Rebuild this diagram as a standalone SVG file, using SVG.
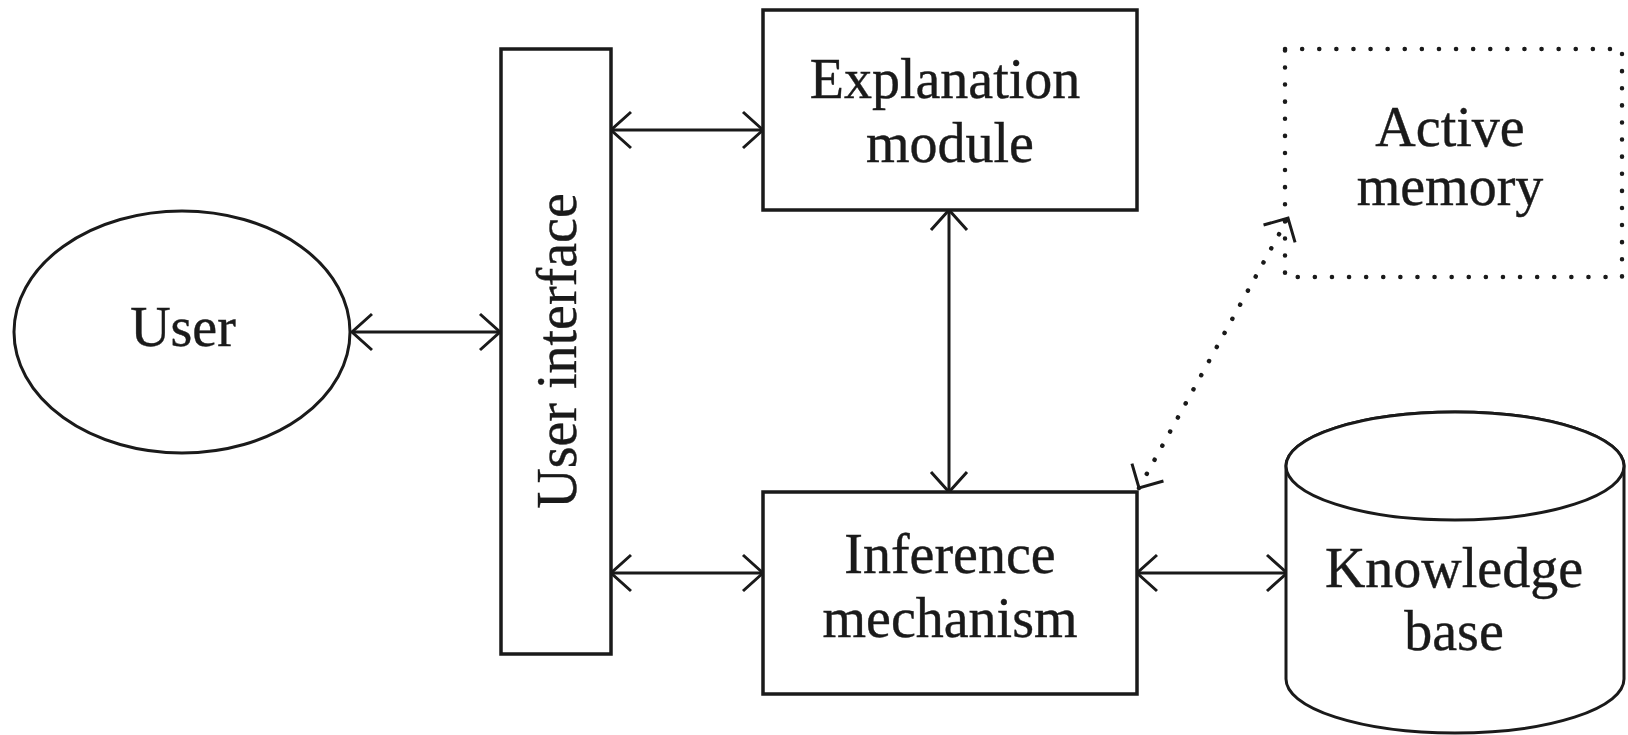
<svg xmlns="http://www.w3.org/2000/svg" width="1628" height="735" viewBox="0 0 1628 735">
  <style>
    .shape { fill: #ffffff; stroke: #1a1a1a; stroke-width: 3.5; }
    .dotted { fill: none; stroke: #1a1a1a; stroke-width: 4.5; stroke-linecap: round; stroke-dasharray: 0.1 17; }
    .link { fill: none; stroke: #1a1a1a; stroke-width: 3; }
    .label { font-family: "Liberation Serif", "Times New Roman", serif; font-size: 56px; fill: #1a1a1a; text-anchor: middle; stroke: #1a1a1a; stroke-width: 0.4; }
  </style>
  <defs>
    <marker id="arrow" markerUnits="userSpaceOnUse" markerWidth="44" markerHeight="44" viewBox="-24 -22 28 44" refX="0" refY="0" orient="auto-start-reverse">
      <path d="M -20 -18 L 0 0 L -20 18" fill="none" stroke="#1a1a1a" stroke-width="3"/>
    </marker>
    <marker id="arrow-small" markerUnits="userSpaceOnUse" markerWidth="44" markerHeight="44" viewBox="-24 -22 28 44" refX="0" refY="0" orient="auto-start-reverse">
      <path d="M -18 -18 L 0 0 L -18 18" fill="none" stroke="#1a1a1a" stroke-width="3"/>
    </marker>
  </defs>

  <rect width="1628" height="735" fill="#ffffff"/>

  <!-- connectors -->
  <g id="connectors">
    <line class="link" x1="352" y1="332" x2="500" y2="332" marker-start="url(#arrow)" marker-end="url(#arrow)"/>
    <line class="link" x1="611" y1="130" x2="763" y2="130" marker-start="url(#arrow)" marker-end="url(#arrow)"/>
    <line class="link" x1="611" y1="573" x2="763" y2="573" marker-start="url(#arrow)" marker-end="url(#arrow)"/>
    <line class="link" x1="1137" y1="573" x2="1287" y2="573" marker-start="url(#arrow)" marker-end="url(#arrow)"/>
    <line class="link" x1="949" y1="210" x2="949" y2="492" marker-start="url(#arrow)" marker-end="url(#arrow)"/>
    <line class="link" x1="1139" y1="488" x2="1288" y2="218" style="stroke-width:4.5;stroke-linecap:round;stroke-dasharray:0.1 16" marker-start="url(#arrow-small)" marker-end="url(#arrow-small)"/>
  </g>

  <!-- user -->
  <g id="user">
    <ellipse class="shape" cx="182" cy="332" rx="168" ry="121" style="stroke-width:3"/>
    <text class="label" x="183" y="346">User</text>
  </g>

  <!-- user interface -->
  <g id="user-interface">
    <rect class="shape" x="501" y="49" width="110" height="605"/>
    <text class="label" transform="translate(576 351) rotate(-90)">User interface</text>
  </g>

  <!-- explanation module -->
  <g id="explanation-module">
    <rect class="shape" x="763" y="10" width="374" height="200"/>
    <text class="label" x="945" y="98">Explanation</text>
    <text class="label" x="950" y="162">module</text>
  </g>

  <!-- inference mechanism -->
  <g id="inference-mechanism">
    <rect class="shape" x="763" y="492" width="374" height="202"/>
    <text class="label" x="950" y="573">Inference</text>
    <text class="label" x="950" y="637">mechanism</text>
  </g>

  <!-- active memory -->
  <g id="active-memory">
    <rect class="dotted" x="1285" y="49" width="337" height="228"/>
    <text class="label" x="1450" y="146">Active</text>
    <text class="label" x="1450" y="205">memory</text>
  </g>

  <!-- knowledge base -->
  <g id="knowledge-base">
    <path class="shape" d="M 1286 466 L 1286 679 A 169 54 0 0 0 1624 679 L 1624 466 A 169 54 0 0 0 1286 466 Z" style="stroke-width:3"/>
    <ellipse class="shape" cx="1455" cy="466" rx="169" ry="54" style="stroke-width:3"/>
    <text class="label" x="1454" y="587">Knowledge</text>
    <text class="label" x="1454" y="650">base</text>
  </g>
</svg>
